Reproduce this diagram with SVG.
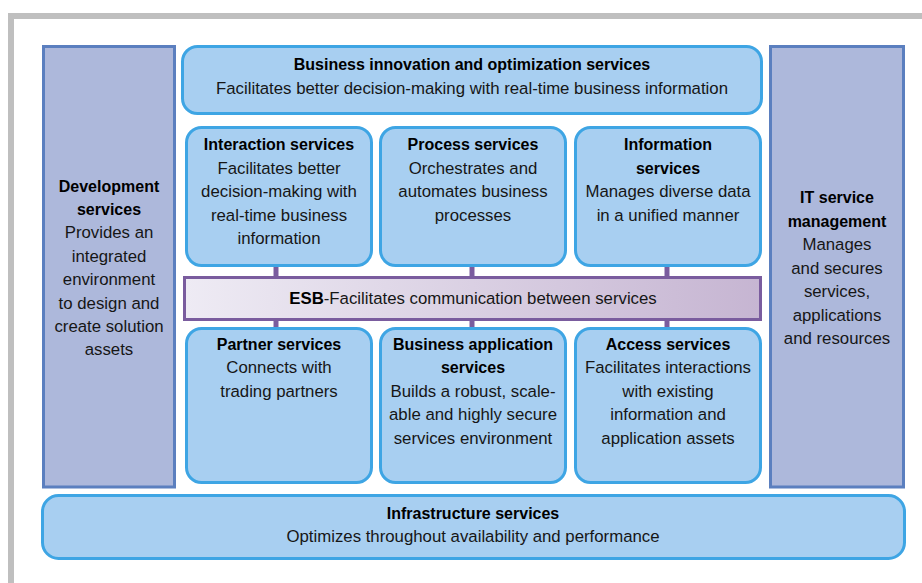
<svg xmlns="http://www.w3.org/2000/svg" width="922" height="583" viewBox="0 0 922 583">
  <defs>
    <linearGradient id="esbFill" x1="0" y1="0" x2="1" y2="0">
      <stop offset="0" stop-color="#eeebf4"/>
      <stop offset="1" stop-color="#c6b5d2"/>
    </linearGradient>
    <style>
      .frame { fill: #ffffff; stroke: #bfbfbf; stroke-width: 6; }
      .side { fill: #adb8db; stroke: #5b7fbf; stroke-width: 3; }
      .svc { fill: #a8cff1; stroke: #3ea5e4; stroke-width: 3; }
      .esb { fill: url(#esbFill); stroke: #7a5c9e; stroke-width: 3; }
      .link { stroke: #7a5c9e; stroke-width: 5; fill: none; }
      text { font-family: "Liberation Sans", Arial, sans-serif; fill: #161616; text-anchor: middle; }
      .t { font-weight: bold; font-size: 16px; fill: #000000; }
      .d { font-size: 16.8px; }
    </style>
  </defs>

  <rect width="922" height="583" fill="#ffffff"/>
  <rect class="frame" x="11" y="16" width="1000" height="700"/>

  <!-- connectors between service tiers and the bus -->
  <g id="connectors">
    <line class="link" x1="276" y1="266" x2="276" y2="278"/>
    <line class="link" x1="472" y1="266" x2="472" y2="278"/>
    <line class="link" x1="667" y1="266" x2="667" y2="278"/>
    <line class="link" x1="276" y1="319" x2="276" y2="329"/>
    <line class="link" x1="472" y1="319" x2="472" y2="329"/>
    <line class="link" x1="667" y1="319" x2="667" y2="329"/>
  </g>

  <g id="development">
    <rect class="side" x="43.5" y="46.5" width="131" height="440.5"/>
    <text class="t" x="109" y="192">Development</text>
    <text class="t" x="109" y="215">services</text>
    <text class="d" x="109" y="238">Provides an</text>
    <text class="d" x="109" y="262">integrated</text>
    <text class="d" x="109" y="285">environment</text>
    <text class="d" x="109" y="309">to design and</text>
    <text class="d" x="109" y="332">create solution</text>
    <text class="d" x="109" y="355">assets</text>
  </g>

  <g id="it-management">
    <rect class="side" x="770.5" y="46.5" width="133" height="440.5"/>
    <text class="t" x="837" y="203">IT service</text>
    <text class="t" x="837" y="227">management</text>
    <text class="d" x="837" y="250">Manages</text>
    <text class="d" x="837" y="274">and secures</text>
    <text class="d" x="837" y="297">services,</text>
    <text class="d" x="837" y="321">applications</text>
    <text class="d" x="837" y="344">and resources</text>
  </g>

  <g id="business-innovation">
    <rect class="svc" x="182.5" y="46.5" width="579" height="67" rx="15"/>
    <text class="t" x="472" y="70">Business innovation and optimization services</text>
    <text class="d" x="472" y="94">Facilitates better decision-making with real-time business information</text>
  </g>

  <g id="interaction">
    <rect class="svc" x="186.5" y="127.5" width="185" height="138" rx="15"/>
    <text class="t" x="279" y="150">Interaction services</text>
    <text class="d" x="279" y="174">Facilitates better</text>
    <text class="d" x="279" y="197">decision-making with</text>
    <text class="d" x="279" y="221">real-time business</text>
    <text class="d" x="279" y="244">information</text>
  </g>

  <g id="process">
    <rect class="svc" x="380.5" y="127.5" width="185" height="138" rx="15"/>
    <text class="t" x="473" y="150">Process services</text>
    <text class="d" x="473" y="174">Orchestrates and</text>
    <text class="d" x="473" y="197">automates business</text>
    <text class="d" x="473" y="221">processes</text>
  </g>

  <g id="information">
    <rect class="svc" x="575.5" y="127.5" width="185" height="138" rx="15"/>
    <text class="t" x="668" y="150">Information</text>
    <text class="t" x="668" y="174">services</text>
    <text class="d" x="668" y="197">Manages diverse data</text>
    <text class="d" x="668" y="221">in a unified manner</text>
  </g>

  <g id="esb">
    <rect class="esb" x="184.5" y="277.5" width="576" height="42"/>
    <text class="d" x="473" y="304"><tspan font-weight="bold" fill="#000000">ESB</tspan>-Facilitates communication between services</text>
  </g>

  <g id="partner">
    <rect class="svc" x="186.5" y="328.5" width="185" height="154" rx="15"/>
    <text class="t" x="279" y="350">Partner services</text>
    <text class="d" x="279" y="373">Connects with</text>
    <text class="d" x="279" y="397">trading partners</text>
  </g>

  <g id="business-application">
    <rect class="svc" x="380.5" y="328.5" width="185" height="154" rx="15"/>
    <text class="t" x="473" y="350">Business application</text>
    <text class="t" x="473" y="373">services</text>
    <text class="d" x="473" y="397">Builds a robust, scale-</text>
    <text class="d" x="473" y="420">able and highly secure</text>
    <text class="d" x="473" y="444">services environment</text>
  </g>

  <g id="access">
    <rect class="svc" x="575.5" y="328.5" width="185" height="154" rx="15"/>
    <text class="t" x="668" y="350">Access services</text>
    <text class="d" x="668" y="373">Facilitates interactions</text>
    <text class="d" x="668" y="397">with existing</text>
    <text class="d" x="668" y="420">information and</text>
    <text class="d" x="668" y="444">application assets</text>
  </g>

  <g id="infrastructure">
    <rect class="svc" x="42.5" y="495.5" width="862" height="63" rx="16"/>
    <text class="t" x="473" y="519">Infrastructure services</text>
    <text class="d" x="473" y="542">Optimizes throughout availability and performance</text>
  </g>
</svg>
